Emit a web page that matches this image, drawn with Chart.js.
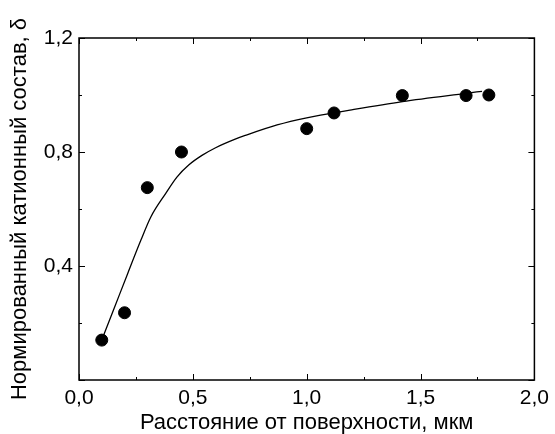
<!DOCTYPE html>
<html>
<head>
<meta charset="utf-8">
<script src="https://cdn.jsdelivr.net/npm/chart.js@4"></script>
<style>
  html, body { margin: 0; padding: 0; background: #fff; }
  #wrap { width: 555px; height: 434px; }
</style>
</head>
<body>
<div id="wrap"><canvas id="myChart" width="555" height="434"></canvas></div>
<script>
// measured points
const depthX = [0.10, 0.20, 0.30, 0.45, 1.00, 1.12, 1.42, 1.70, 1.80];
const deltaY = [0.14, 0.236, 0.675, 0.80, 0.882, 0.937, 0.998, 0.998, 1.00];

// fitted curve
const fitX = [0.10, 0.157, 0.214, 0.272, 0.316, 0.381, 0.43, 0.483, 0.54, 0.60, 0.686, 0.73, 0.87, 1.00, 1.19, 1.42, 1.70, 1.77];
const fitY = [0.14, 0.257, 0.374, 0.491, 0.573, 0.655, 0.712, 0.755, 0.788, 0.815, 0.845, 0.858, 0.895, 0.92, 0.947, 0.977, 1.006, 1.013];

// axis ticks
const xMajor = [0, 0.5, 1.0, 1.5, 2.0];
const xMinor = [0.25, 0.75, 1.25, 1.75];
const yMajor = [0, 0.4, 0.8, 1.2];
const yMinor = [0.2, 0.6, 1.0];

const xTitle = 'Расстояние от поверхности, мкм';
const yTitle = 'Нормированный катионный состав, δ';

const comma = v => v.toFixed(1).replace('.', ',');
const FONT = 'Liberation Sans, Arial, sans-serif';

// frame with inward ticks on all four sides
const frameTicks = {
  id: 'frameTicks',
  afterDraw(chart) {
    const { ctx, chartArea: a, scales: { x, y } } = chart;
    ctx.save();
    ctx.strokeStyle = '#000';
    const seg = (x1, y1, x2, y2) => {
      ctx.beginPath(); ctx.moveTo(x1, y1); ctx.lineTo(x2, y2); ctx.stroke();
    };
    ctx.lineWidth = 1;
    const xt = (list, len) => list.forEach(v => {
      const p = Math.round(x.getPixelForValue(v)) + 0.5;
      seg(p, a.bottom, p, a.bottom - len);
      seg(p, a.top, p, a.top + len);
    });
    const yt = (list, len) => list.forEach(v => {
      const p = Math.round(y.getPixelForValue(v)) + 0.5;
      seg(a.left, p, a.left + len, p);
      seg(a.right, p, a.right - len, p);
    });
    xt(xMajor, 6); xt(xMinor, 3);
    yt(yMajor, 6); yt(yMinor, 3);
    ctx.lineWidth = 1.5;
    ctx.strokeRect(a.left, a.top, a.right - a.left, a.bottom - a.top);
    ctx.restore();
  }
};

const ctx = document.getElementById('myChart');

new Chart(ctx, {
  type: 'scatter',
  data: {
    datasets: [
      {
        label: 'fit',
        data: fitX.map((v, i) => ({ x: v, y: fitY[i] })),
        showLine: true,
        borderColor: '#000',
        borderWidth: 1.3,
        pointRadius: 0,
        cubicInterpolationMode: 'monotone',
        fill: false
      },
      {
        label: 'delta',
        data: depthX.map((v, i) => ({ x: v, y: deltaY[i] })),
        backgroundColor: '#000',
        borderColor: '#000',
        pointRadius: 6,
        pointHoverRadius: 6
      }
    ]
  },
  options: {
    responsive: false,
    animation: false,
    devicePixelRatio: 1,
    layout: { padding: { left: 0, right: 16, top: 38, bottom: 0 } },
    plugins: { legend: { display: false }, tooltip: { enabled: false } },
    scales: {
      x: {
        type: 'linear',
        min: 0, max: 2,
        afterFit: s => { s.height = 54; },
        afterBuildTicks: s => { s.ticks = xMajor.map(v => ({ value: v })); },
        grid: { display: false, drawTicks: false, tickLength: 0 },
        border: { display: false },
        ticks: {
          padding: 6,
          color: '#000',
          font: { family: FONT, size: 21 },
          callback: v => comma(v)
        },
        title: {
          display: true,
          text: xTitle,
          color: '#000',
          font: { family: FONT, size: 22 },
          padding: { top: 0, bottom: -2 }
        }
      },
      y: {
        type: 'linear',
        min: 0, max: 1.2,
        afterFit: s => { s.width = 79; },
        afterBuildTicks: s => { s.ticks = yMajor.map(v => ({ value: v })); },
        grid: { display: false, drawTicks: false, tickLength: 0 },
        border: { display: false },
        ticks: {
          padding: 6,
          color: '#000',
          font: { family: FONT, size: 21 },
          callback: v => (v === 0 ? '' : comma(v))
        },
        title: {
          display: true,
          text: yTitle,
          color: '#000',
          font: { family: FONT, size: 22 },
          padding: { top: 7, bottom: 0 }
        }
      }
    }
  },
  plugins: [frameTicks]
});
</script>
</body>
</html>
